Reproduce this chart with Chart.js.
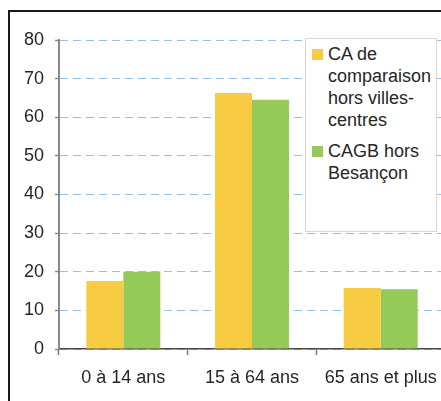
<!DOCTYPE html>
<html>
<head>
<meta charset="utf-8">
<script src="https://cdn.jsdelivr.net/npm/chart.js@4/dist/chart.umd.min.js"></script>
<style>
  html, body { margin: 0; padding: 0; width: 441px; height: 401px; overflow: hidden; background: #fff; }
  #frame { position: absolute; left: 8px; top: 10px; width: 600px; height: 600px; border: 2px solid #1a1a1a; box-sizing: border-box; }
  #c { position: absolute; left: 0; top: 0; }
  #legend { position: absolute; left: 305px; top: 38px; width: 132px; height: 194px; box-sizing: border-box;
            border: 1.5px solid #d6d6d6; background: #fff; font-family: "Liberation Sans", Arial, sans-serif;
            font-size: 18px; line-height: 22px; color: #262626; }
  .item { position: relative; padding-left: 22px; }
  .sw { position: absolute; left: 6px; top: 5.5px; width: 11px; height: 11px; }
</style>
</head>
<body>
<div id="frame"></div>
<canvas id="c" width="450" height="401"></canvas>
<div id="legend"></div>
<script>
const categories = ["0 à 14 ans", "15 à 64 ans", "65 ans et plus"];
const seriesNames = [["CA de", "comparaison", "hors villes-", "centres"], ["CAGB hors", "Besançon"]];
const seriesCA = [17.6, 66.3, 15.8];
const seriesCAGB = [20.0, 64.5, 15.5];
const colors = ["#F8CC42", "#95C958"];
const yTicks = [0, 10, 20, 30, 40, 50, 60, 70, 80];

const font = { family: '"Liberation Sans", Arial, sans-serif', size: 18 };

new Chart(document.getElementById('c'), {
  type: 'bar',
  data: {
    labels: categories,
    datasets: [
      { label: seriesNames[0].join(' '), data: seriesCA, backgroundColor: colors[0], borderWidth: 0 },
      { label: seriesNames[1].join(' '), data: seriesCAGB, backgroundColor: colors[1], borderWidth: 0 }
    ]
  },
  options: {
    responsive: false,
    animation: false,
    events: [],
    datasets: { bar: { categoryPercentage: 0.575, barPercentage: 1 } },
    layout: { padding: { top: 40, left: 0, right: 5, bottom: 0 } },
    plugins: { legend: { display: false }, tooltip: { enabled: false }, title: { display: false } },
    scales: {
      x: {
        offset: true,
        afterFit: (s) => { s.height = 52; },
        grid: { display: true, drawOnChartArea: false, offset: true, tickLength: 6, tickColor: '#7a7a7a', tickWidth: 1.5 },
        border: { display: true, color: '#4a4a4a', width: 1.5 },
        ticks: { font: font, color: '#262626', padding: 12, maxRotation: 0 }
      },
      y: {
        min: yTicks[0], max: yTicks[yTicks.length - 1],
        afterFit: (s) => { s.width = 59; },
        afterBuildTicks: (s) => { s.ticks = yTicks.map(v => ({ value: v })); },
        grid: { color: '#8EC3EA', lineWidth: 1, borderDash: [8, 5], tickLength: 4, tickColor: '#8a8a8a', tickWidth: 1.5, tickBorderDash: [] },
        border: { display: true, color: '#8a8a8a', width: 2, dash: [8, 5] },
        ticks: { font: font, color: '#262626', padding: 11, stepSize: 10 }
      }
    }
  }
});

// HTML legend built from series names/colors
const legend = document.getElementById('legend');
seriesNames.forEach((lines, i) => {
  const item = document.createElement('div');
  item.className = 'item';
  item.style.marginTop = i === 0 ? '4px' : '9px';
  const sw = document.createElement('span');
  sw.className = 'sw';
  sw.style.background = colors[i];
  item.appendChild(sw);
  lines.forEach((t, j) => {
    if (j > 0) item.appendChild(document.createElement('br'));
    item.appendChild(document.createTextNode(t));
  });
  legend.appendChild(item);
});
</script>
</body>
</html>
